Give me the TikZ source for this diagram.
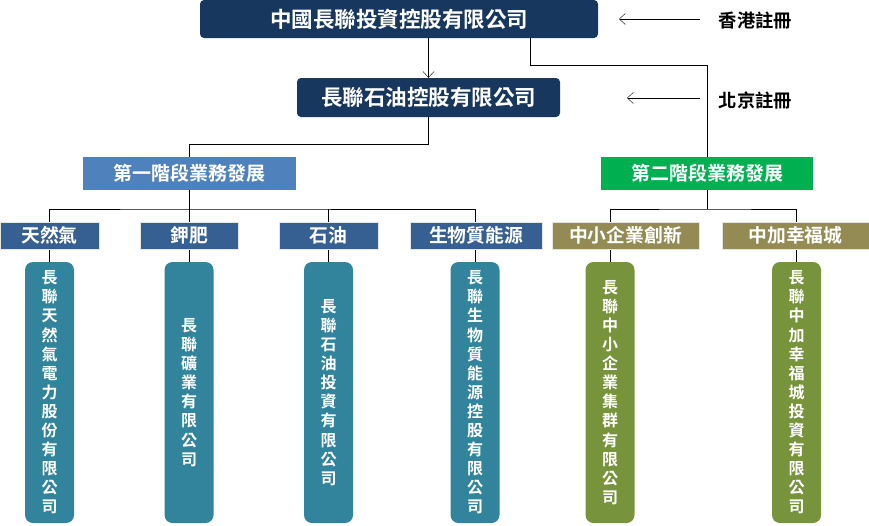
\documentclass[tikz,border=0pt]{standalone}
\usepackage{fontspec}
\setmainfont{Noto Sans CJK TC}[BoldFont={* Bold}]
\usetikzlibrary{arrows.meta,backgrounds}
\definecolor{navy}{RGB}{24,55,94}
\definecolor{stageone}{RGB}{79,129,189}
\definecolor{stagetwo}{RGB}{0,176,80}
\definecolor{fieldblue}{RGB}{54,96,146}
\definecolor{fieldolive}{RGB}{148,138,84}
\definecolor{firmteal}{RGB}{49,132,155}
\definecolor{firmgreen}{RGB}{119,147,60}
\definecolor{wire}{RGB}{79,129,189}
\begin{document}
\begin{tikzpicture}[x=1pt,y=-1pt,>={Straight Barb[length=6pt,width=11pt]}]

      \useasboundingbox (0,0) rectangle (869,525);

      \begin{scope}[every node/.style={rounded corners=4pt,fill=navy,text=white,inner sep=0pt,
          font=\bfseries\fontsize{21.5}{25}\selectfont}]
        \node[minimum width=398,minimum height=38] (1) at (399,19)    {中國長聯投資控股有限公司};
        \node[minimum width=263,minimum height=39] (2) at (428.5,97.5) {長聯石油控股有限公司};
      \end{scope}

      \begin{scope}[every node/.style={text=white,inner sep=0pt,minimum height=33,
          font=\bfseries\fontsize{19}{23}\selectfont}]
        \node[fill=stageone,minimum width=213] (3) at (189.5,173.5) {第一階段業務發展};
        \node[fill=stagetwo,minimum width=212] (4) at (707,173.5)   {第二階段業務發展};
      \end{scope}

      \begin{scope}[every node/.style={text=white,inner sep=0pt,minimum height=27,
          draw=white!80!gray,line width=.8pt,font=\bfseries\fontsize{18.8}{22}\selectfont}]
        \node[fill=fieldblue,minimum width=99]   (5)  at (49.5,235.5)  {天然氣};
        \node[fill=fieldblue,minimum width=98]   (6)  at (189,235.5)   {鉀肥};
        \node[fill=fieldblue,minimum width=99]   (7)  at (328.5,235.5) {石油};
        \node[fill=fieldblue,minimum width=132]  (8)  at (476,235.5)   {生物質能源};
        \node[fill=fieldolive,minimum width=147] (9)  at (625.5,235.5) {中小企業創新};
        \node[fill=fieldolive,minimum width=147] (10) at (795.5,235.5) {中加幸福城};
      \end{scope}

      \begin{scope}[every node/.style={rounded corners=8pt,text=white,inner sep=0pt,align=center,
          minimum width=49,minimum height=261,font=\bfseries\fontsize{16}{19.1}\selectfont}]
        \node[fill=firmteal]  (11) at (49.5,392.5)  {長\\聯\\天\\然\\氣\\電\\力\\股\\份\\有\\限\\公\\司};
        \node[fill=firmteal]  (12) at (189,392.5)   {長\\聯\\礦\\業\\有\\限\\公\\司};
        \node[fill=firmteal]  (13) at (328.5,392.5) {長\\聯\\石\\油\\投\\資\\有\\限\\公\\司};
        \node[fill=firmteal]  (14) at (475,392.5)   {長\\聯\\生\\物\\質\\能\\源\\控\\股\\有\\限\\公\\司};
        \node[fill=firmgreen] (15) at (610,392.5)   {長\\聯\\中\\小\\企\\業\\集\\群\\有\\限\\公\\司};
        \node[fill=firmgreen] (16) at (796.5,392.5) {長\\聯\\中\\加\\幸\\福\\城\\投\\資\\有\\限\\公\\司};
      \end{scope}

      \begin{scope}[every node/.style={inner sep=0pt,font=\bfseries\fontsize{18.3}{22}\selectfont}]
        \node (17) at (755.5,20)  {香港註冊};
        \node (18) at (755.5,100) {北京註冊};
      \end{scope}

      \coordinate (t)  at (530,65);
      \coordinate (b1) at (189.5,209);
      \coordinate (b2) at (707,209);
      \coordinate (a1) at (619,19);
      \coordinate (a2) at (627,98);

      \begin{scope}[on background layer,color=wire,line width=.9pt]
        \draw[->] (1.south -| 2) -- (2.north);
        \draw (1.south -| t) -- (t) -| (4.north);
        \draw (2.south) -- ++(0,27) -| (3.north);
        \draw (3.south) -- (b1);
        \draw (11.north) |- (b1) -| (14.north);
        \draw (12.north) -- (12.north |- b1);
        \draw (13.north) -- (13.north |- b1);
        \draw (4.south) -- (b2);
        \draw (15.north) |- (b2) -| (16.north);
        \draw[->] ([xshift=-19pt]17.west |- a1) -- (a1);
        \draw[->] ([xshift=-19pt]18.west |- a2) -- (a2);
      \end{scope}

    \end{tikzpicture}
\end{document}
